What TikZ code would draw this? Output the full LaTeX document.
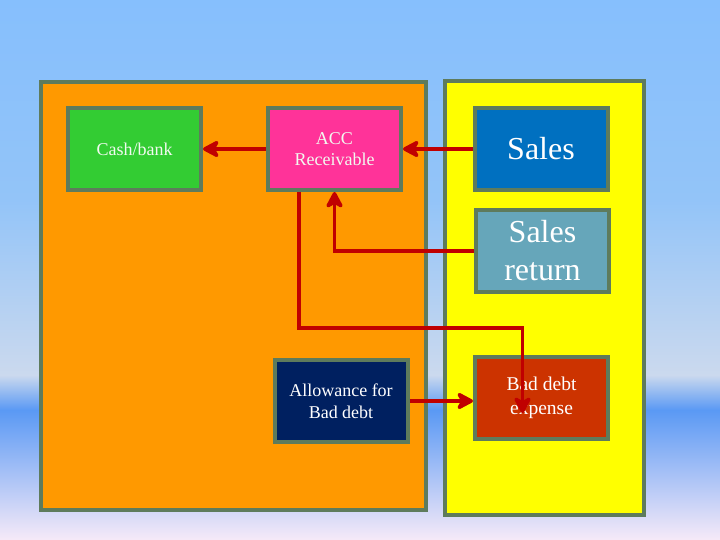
\documentclass[tikz,border=0pt]{standalone}
\usepackage{fontspec}
\setmainfont{Liberation Serif}
\usetikzlibrary{arrows.meta}
\definecolor{bgtop}{HTML}{86BFFD}
\definecolor{bgmid}{HTML}{93C4F8}
\definecolor{bgpale}{HTML}{CBD9EE}
\definecolor{bgband}{HTML}{5A99F4}
\definecolor{bgbot}{HTML}{F6EAF8}
\definecolor{edge}{HTML}{5E7B5C}
\definecolor{orangebg}{HTML}{FF9900}
\definecolor{yellowbg}{HTML}{FFFF00}
\definecolor{cashc}{HTML}{33CC33}
\definecolor{accc}{HTML}{FF3399}
\definecolor{salesc}{HTML}{0070C0}
\definecolor{retc}{HTML}{66A6BA}
\definecolor{allowc}{HTML}{002060}
\definecolor{bdec}{HTML}{CC3300}
\definecolor{arrc}{HTML}{C00000}
\definecolor{paletext}{HTML}{F2FAF0}
\tikzset{
  panel/.style={draw=edge, line width=4pt},
  acct/.style={draw=edge, line width=4pt, text=white, align=center, inner sep=0pt,
    minimum width=133pt, minimum height=82pt},
  arr/.style={draw=arrc, line width=3.5pt, -{Stealth[length=20pt,width=21pt,inset=6pt,round]}},
}
\begin{document}
\begin{tikzpicture}[x=1pt,y=-1pt]
\useasboundingbox (0,0) rectangle (720,540);
% background
\shade[top color=bgtop, bottom color=bgmid] (0,0) rectangle (720,200);
\shade[top color=bgmid, bottom color=bgpale] (0,200) rectangle (720,375);
\shade[top color=bgpale, bottom color=bgband] (0,375) rectangle (720,410);
\shade[top color=bgband, bottom color=bgbot] (0,410) rectangle (720,540);
% panels
\path[panel, fill=orangebg] (41,82) rectangle (426,510);
\path[panel, fill=yellowbg] (445,81) rectangle (644,515);
% accounts
\node[acct, fill=cashc, text=paletext, font=\fontsize{18}{21}\selectfont] (cash) at (134.5,149) {Cash/bank};
\node[acct, fill=accc, text=paletext, font=\fontsize{18}{21}\selectfont] (acc) at (334.5,149) {ACC\\Receivable};
\node[acct, fill=salesc, font=\fontsize{32}{38}\selectfont] (sales) at (541,149) {Sales};
\node[acct, fill=retc, font=\fontsize{32}{38}\selectfont] (sret) at (542.5,251) {Sales\\return};
\node[acct, fill=allowc, font=\fontsize{18}{22}\selectfont] (allow) at (341,401) {Allowance for\\Bad debt};
\node[acct, fill=bdec, font=\fontsize{19.5}{24}\selectfont] (bde) at (541.5,398) {Bad debt\\expense};
% connectors
\draw[arr] (acc.west) -- (cash.east);
\draw[arr] (sales.west) -- (acc.east);
\draw[arr] (sret.west) -| (acc.south);
\coordinate (bend) at (299,328);
\draw[arr] ([xshift=-35.5pt]acc.south) |- (bend) -| ([xshift=-19pt,yshift=-15pt]bde.center);
\draw[arr] (allow.east) -- (allow.east -| bde.west);
\end{tikzpicture}
\end{document}
